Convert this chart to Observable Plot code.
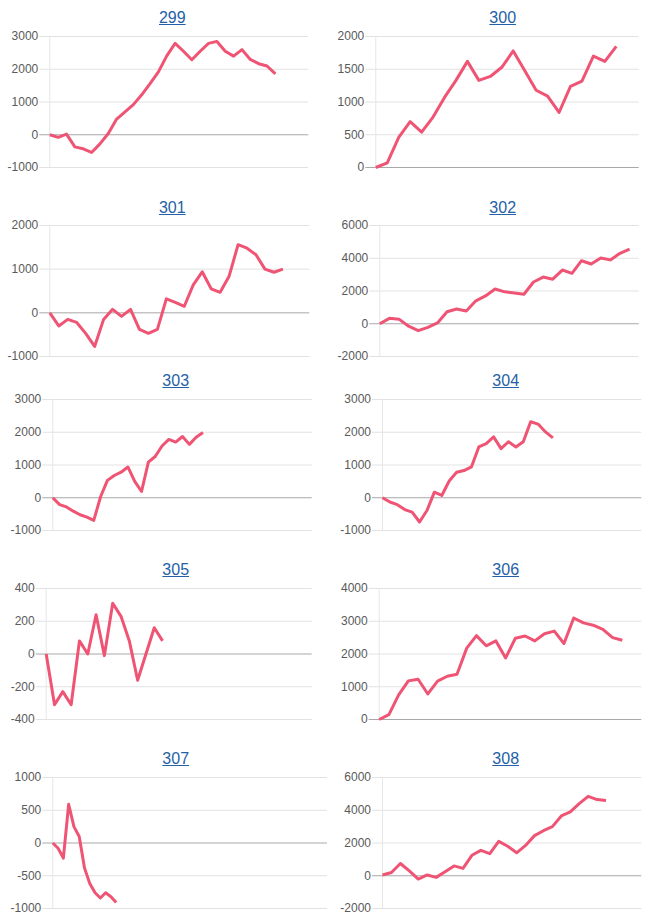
<!DOCTYPE html>
<html>
<head>
<meta charset="utf-8">
<script src="https://cdn.jsdelivr.net/npm/d3@7"></script>
<script src="https://cdn.jsdelivr.net/npm/@observablehq/plot@0.6"></script>
<style>
  html, body { margin: 0; padding: 0; background: #fff; }
  #root { position: relative; width: 655px; height: 922px; overflow: hidden; font-family: "Liberation Sans", Arial, sans-serif; }
  .panel { position: absolute; }
  .title { position: absolute; font-size: 16px; line-height: 16px; color: #2561a6; text-decoration: underline; white-space: nowrap; transform: translateX(-50%); }
</style>
</head>
<body>
<div id="root"></div>
<script>
// ---- data ----
const names = ["299", "300", "301", "302", "303", "304", "305", "306", "307", "308"];

const v299 = [0, -80, 20, -370, -430, -540, -280, 40, 480, 700, 920, 1220, 1560, 1920, 2410, 2790, 2550, 2290, 2550, 2790, 2850, 2550, 2400, 2600, 2300, 2170, 2100, 1860];
const v300 = [0, 70, 460, 700, 540, 770, 1070, 1330, 1620, 1330, 1390, 1530, 1780, 1480, 1180, 1090, 840, 1240, 1320, 1700, 1620, 1850];
const v301 = [0, -300, -150, -220, -470, -770, -150, 80, -80, 80, -380, -470, -380, 320, 240, 150, 640, 940, 550, 470, 840, 1560, 1480, 1330, 1000, 930, 1000];
const v302 = [0, 330, 280, -150, -420, -220, 50, 730, 900, 780, 1400, 1700, 2120, 1950, 1880, 1800, 2550, 2850, 2720, 3280, 3080, 3850, 3650, 4020, 3900, 4300, 4550];
const v303 = [0, -210, -280, -410, -520, -590, -690, 30, 530, 680, 780, 940, 500, 190, 1090, 1260, 1580, 1780, 1700, 1870, 1630, 1850, 1990];
const v304 = [0, -130, -210, -360, -440, -740, -390, 170, 70, 510, 780, 830, 940, 1550, 1650, 1860, 1500, 1710, 1550, 1710, 2320, 2250, 2010, 1830];
const v305 = [0, -310, -230, -310, 80, 0, 240, -10, 310, 230, 80, -160, 0, 160, 80];
const v306 = [0, 150, 750, 1180, 1230, 780, 1170, 1320, 1380, 2180, 2560, 2250, 2400, 1880, 2480, 2550, 2400, 2620, 2700, 2320, 3100, 2950, 2880, 2750, 2500, 2420];
const v307 = [0, -80, -230, 590, 250, 100, -380, -620, -760, -840, -760, -820, -910];
const v308 = [50, 200, 750, 300, -200, 50, -100, 250, 600, 450, 1250, 1550, 1350, 2100, 1800, 1400, 1850, 2450, 2750, 3000, 3650, 3900, 4400, 4850, 4650, 4600];
const series = [v299, v300, v301, v302, v303, v304, v305, v306, v307, v308];

// y tick labels per panel
const t299 = [-1000, 0, 1000, 2000, 3000];
const t300 = [0, 500, 1000, 1500, 2000];
const t301 = [-1000, 0, 1000, 2000];
const t302 = [-2000, 0, 2000, 4000, 6000];
const t303 = [-1000, 0, 1000, 2000, 3000];
const t304 = [-1000, 0, 1000, 2000, 3000];
const t305 = [-400, -200, 0, 200, 400];
const t306 = [0, 1000, 2000, 3000, 4000];
const t307 = [-1000, -500, 0, 500, 1000];
const t308 = [-2000, 0, 2000, 4000, 6000];
const ticks = [t299, t300, t301, t302, t303, t304, t305, t306, t307, t308];

// x extent (in steps) each panel's horizontal axis covers
const xEnd = [31, 23, 29, 27, 38, 35, 32, 27, 52, 29];

// ---- layout (positions in page pixels) ----
const colLeft = [0, 327];
const colWidth = [327, 328];
const gridTop = [36, 36, 225, 225, 399, 399, 588.3, 588.3, 777.3, 777.3];
const plotLeft = [49.3, 48.3, 49.3, 52.3, 52.3, 55, 45.7, 51.7, 52.3, 55];
const plotRight = [308.3, 311.7, 309.3, 311.7, 311.7, 314.3, 311.7, 314.3, 327, 314.3];
const titleX = [172.3, 175.7, 172.3, 175.7, 175.7, 178.7, 175.7, 178.7, 175.7, 178.7];
const titleBaseline = [23.5, 23.5, 213.5, 213.5, 386.7, 386.7, 575.7, 575.7, 764.3, 764.3];
const plotH = 131;
const pad = 10;

const root = document.getElementById("root");

names.forEach((name, i) => {
  const col = i % 2;
  const values = series[i];
  const data = values.map((v, k) => ({k, v}));
  const tk = ticks[i];
  const W = colWidth[col];

  const chart = Plot.plot({
    width: W,
    height: plotH + 2 * pad,
    marginTop: pad,
    marginBottom: pad,
    marginLeft: plotLeft[i],
    marginRight: W - plotRight[i],
    style: {fontFamily: '"Liberation Sans", Arial, sans-serif', fontSize: "12px", color: "#555", background: "transparent", overflow: "visible"},
    x: {domain: [0, xEnd[i]], axis: null},
    y: {domain: d3.extent(tk), axis: null},
    marks: [
      Plot.ruleY(tk.filter(t => t !== 0), {stroke: "#e2e2e2", strokeWidth: 1, insetLeft: -10}),
      Plot.ruleX([0], {stroke: "#e6e6e6", strokeWidth: 1}),
      Plot.ruleY([0], {stroke: "#a8a8a8", strokeWidth: 1, insetLeft: -10}),
      Plot.axisY({ticks: tk, tickSize: 0, tickPadding: 11.5, tickFormat: d => String(d), label: null, fill: "#5a5a5a", fontSize: 12}),
      Plot.lineY(data, {x: "k", y: "v", stroke: "#ef5474", strokeWidth: 3, strokeLinejoin: "round", strokeLinecap: "butt"})
    ]
  });

  const holder = document.createElement("div");
  holder.className = "panel";
  holder.style.left = colLeft[col] + "px";
  holder.style.top = (gridTop[i] - pad) + "px";
  holder.appendChild(chart);
  root.appendChild(holder);

  const t = document.createElement("div");
  t.className = "title";
  t.textContent = name;
  t.style.left = (colLeft[col] + titleX[i]) + "px";
  t.style.top = (titleBaseline[i] - 13.5) + "px";
  root.appendChild(t);
});
</script>
</body>
</html>
